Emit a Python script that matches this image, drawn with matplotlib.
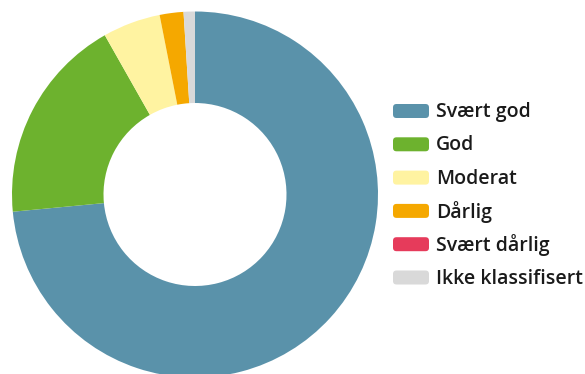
import matplotlib.pyplot as plt
from matplotlib.patches import FancyBboxPatch

labels = ['Svært god', 'God', 'Moderat', 'Dårlig', 'Svært dårlig', 'Ikke klassifisert']
values = [73.5, 18.3, 5.1, 2.1, 0.0, 1.0]
colors = ['#5A92AA', '#6DB22E', '#FFF3A1', '#F5A800', '#E63B5B', '#D9D9D9']

W, H = 585, 374
fig = plt.figure(figsize=(W / 100, H / 100), dpi=100)

# donut: centre ~ (195, 194.5) px from top-left, outer radius ~183 px
cx, cy, R = 195, 194.5, 183
ax = fig.add_axes([(cx - R) / W, (H - cy - R) / H, 2 * R / W, 2 * R / H])
ax.pie(values, colors=colors, startangle=90, counterclock=False,
       radius=1, wedgeprops=dict(width=0.5, linewidth=0))
ax.set_xlim(-1, 1)
ax.set_ylim(-1, 1)
ax.set_aspect('equal')
ax.axis('off')

# legend drawn by hand (rounded swatches)
y0, step = 111, 33.3
for i, (lab, col) in enumerate(zip(labels, colors)):
    y = y0 + i * step
    box = FancyBboxPatch(((393) / W, (H - y - 7) / H), 36 / W, 14 / H,
                         boxstyle='round,pad=0,rounding_size=0.006',
                         transform=fig.transFigure, facecolor=col,
                         edgecolor='none', mutation_aspect=W / H)
    fig.add_artist(box)
    fig.text(436 / W, (H - y - 1) / H, lab, fontsize=14, family='Open Sans',
             weight='semibold', color='#1a1a1a', va='center', ha='left')

fig.savefig('out.png', dpi=100)
